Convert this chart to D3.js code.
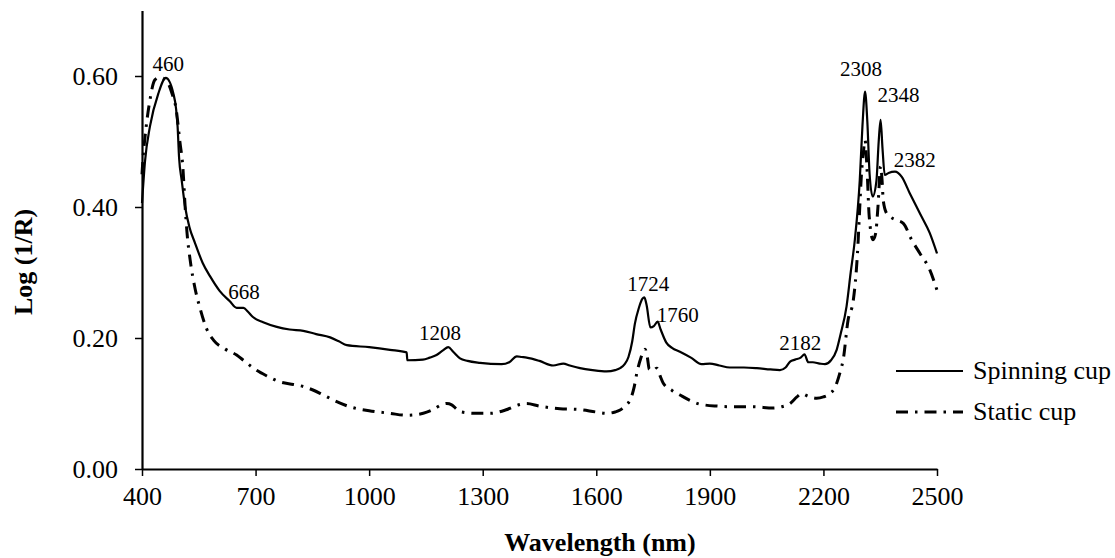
<!DOCTYPE html>
<html>
<head>
<meta charset="utf-8">
<script src="https://cdn.jsdelivr.net/npm/d3@7"></script>
<style>
  body { margin: 0; background: #fff; }
  svg { display: block; }
  text { font-family: "Liberation Serif", "Times New Roman", serif; fill: #000; }
</style>
</head>
<body>
<svg id="chart" width="1115" height="558"></svg>
<script>
// ---- Data ----
const spinWl  = [400,408,421,443,463,483,490,494,498,505,514,525,540,560,580,605,632,650,668,680,693,720,756,790,826,860,897,920,941,1000,1055,1099,1101,1142,1160,1178,1195,1209,1222,1240,1260,1293,1350,1370,1390,1403,1416,1450,1486,1513,1530,1557,1590,1627,1650,1663,1675,1685,1695,1702,1712,1722,1727,1733,1743,1752,1762,1770,1785,1800,1821,1850,1878,1900,1925,1953,1990,2024,2060,2085,2100,2112,2125,2140,2150,2160,2172,2190,2204,2220,2235,2245,2261,2272,2283,2296,2303,2310,2316,2322,2330,2340,2346,2351,2356,2362,2372,2389,2407,2428,2455,2481,2500];
const spinVal = [0.406,0.47,0.523,0.573,0.597,0.573,0.55,0.523,0.475,0.44,0.40,0.37,0.345,0.315,0.294,0.272,0.256,0.246,0.246,0.24,0.232,0.224,0.217,0.213,0.211,0.206,0.201,0.195,0.189,0.186,0.182,0.178,0.166,0.167,0.170,0.174,0.181,0.186,0.179,0.169,0.165,0.162,0.160,0.163,0.172,0.171,0.170,0.165,0.158,0.161,0.158,0.154,0.151,0.149,0.151,0.154,0.16,0.171,0.195,0.222,0.245,0.26,0.262,0.25,0.216,0.218,0.225,0.213,0.193,0.185,0.179,0.170,0.160,0.161,0.158,0.155,0.155,0.154,0.152,0.151,0.155,0.164,0.167,0.170,0.175,0.163,0.163,0.161,0.160,0.166,0.182,0.205,0.248,0.30,0.35,0.441,0.523,0.576,0.53,0.45,0.416,0.44,0.5,0.533,0.49,0.449,0.452,0.454,0.446,0.421,0.39,0.36,0.329];

const staticWl  = [400,403,408,420,434,448,460,470,480,490,500,508,514,519,527,540,553,570,590,620,650,670,694,730,764,800,826,850,879,910,949,1000,1055,1099,1143,1170,1191,1205,1218,1232,1244,1280,1319,1360,1395,1416,1450,1504,1550,1600,1627,1650,1663,1677,1689,1700,1707,1718,1729,1735,1740,1750,1760,1768,1777,1800,1821,1850,1874,1920,1962,2015,2067,2090,2112,2130,2142,2160,2182,2200,2217,2228,2235,2245,2252,2265,2279,2290,2296,2300,2305,2310,2315,2321,2331,2338,2344,2351,2355,2358,2367,2376,2393,2411,2433,2455,2481,2500];
const staticVal = [0.45,0.477,0.507,0.56,0.594,0.598,0.595,0.588,0.572,0.55,0.50,0.46,0.40,0.36,0.32,0.276,0.246,0.215,0.196,0.183,0.174,0.165,0.154,0.142,0.133,0.129,0.126,0.121,0.113,0.104,0.095,0.089,0.085,0.082,0.085,0.091,0.098,0.100,0.098,0.091,0.087,0.085,0.085,0.090,0.098,0.100,0.096,0.092,0.091,0.087,0.085,0.087,0.090,0.097,0.105,0.125,0.146,0.170,0.183,0.17,0.152,0.15,0.154,0.143,0.131,0.12,0.113,0.104,0.099,0.096,0.095,0.095,0.093,0.095,0.100,0.110,0.115,0.111,0.108,0.11,0.115,0.122,0.131,0.150,0.166,0.227,0.258,0.33,0.40,0.446,0.48,0.502,0.46,0.385,0.35,0.36,0.40,0.462,0.44,0.41,0.39,0.385,0.38,0.375,0.35,0.329,0.304,0.273];

// peak annotations: label, left-edge wavelength, baseline value
const peakLabels = ["460","668","1208","1724","1760","2182","2308","2348","2382"];
const peakLabelWl = [428,628,1132,1682,1760,2083,2244,2343,2386];
const peakLabelVal = [0.608,0.260,0.197,0.272,0.224,0.181,0.600,0.561,0.461];

const xTicks = [400,700,1000,1300,1600,1900,2200,2500];
const yTicks = [0,0.2,0.4,0.6];
const seriesNames = ["Spinning cup","Static cup"];

// ---- Chart ----
const svg = d3.select("#chart");
const x = d3.scaleLinear().domain([400,2500]).range([142,937]);
const y = d3.scaleLinear().domain([0,0.7]).range([469,10.5]);

const xAxis = svg.append("g").attr("transform","translate(0,469)")
  .call(d3.axisBottom(x).tickValues(xTicks).tickSize(7).tickPadding(11).tickSizeOuter(0).tickFormat(d3.format("d")));
const yAxis = svg.append("g").attr("transform","translate(142,0)")
  .call(d3.axisLeft(y).tickValues(yTicks).tickSize(7).tickPadding(17).tickSizeOuter(0).tickFormat(d3.format(".2f")));
[xAxis,yAxis].forEach(a=>{
  a.select(".domain").attr("stroke","#000").attr("stroke-width",2.2);
  a.selectAll(".tick line").attr("stroke","#000").attr("stroke-width",1.5);
  a.selectAll(".tick text").attr("font-family","Liberation Serif, Times New Roman, serif").attr("font-size",26).attr("fill","#000");
});

const line = d3.line().x(d=>x(d[0])).y(d=>y(d[1])).curve(d3.curveMonotoneX);
const spin = spinWl.map((w,i)=>[w,spinVal[i]]);
const stat = staticWl.map((w,i)=>[w,staticVal[i]]);

const dashPattern = "12,7,2.5,7";

svg.append("path").datum(stat).attr("d",line)
  .attr("fill","none").attr("stroke","#000").attr("stroke-width",3)
  .attr("stroke-dasharray",dashPattern);
svg.append("path").datum(spin).attr("d",line)
  .attr("fill","none").attr("stroke","#000").attr("stroke-width",2.2);

// annotations
svg.append("g").selectAll("text").data(peakLabels).join("text")
  .attr("x",(d,i)=>x(peakLabelWl[i]))
  .attr("y",(d,i)=>y(peakLabelVal[i]))
  .attr("font-size",21)
  .text(d=>d);

// legend
const leg = svg.append("g");
const legY = [371, 412];
leg.selectAll("line").data(seriesNames).join("line")
  .attr("x1",896).attr("x2",963)
  .attr("y1",(d,i)=>legY[i]).attr("y2",(d,i)=>legY[i])
  .attr("stroke","#000")
  .attr("stroke-width",(d,i)=>i===0?2.2:3)
  .attr("stroke-dasharray",(d,i)=>i===0?null:dashPattern);
leg.selectAll("text").data(seriesNames).join("text")
  .attr("x",973).attr("y",(d,i)=>legY[i]+8)
  .attr("font-size",26)
  .text(d=>d);

// axis titles
svg.append("text").attr("x",600).attr("y",551).attr("text-anchor","middle")
  .attr("font-size",26).attr("font-weight","bold").text("Wavelength (nm)");
svg.append("text").attr("transform","translate(32,262) rotate(-90)").attr("text-anchor","middle")
  .attr("font-size",26).attr("font-weight","bold").text("Log (1/R)");
</script>
</body>
</html>
